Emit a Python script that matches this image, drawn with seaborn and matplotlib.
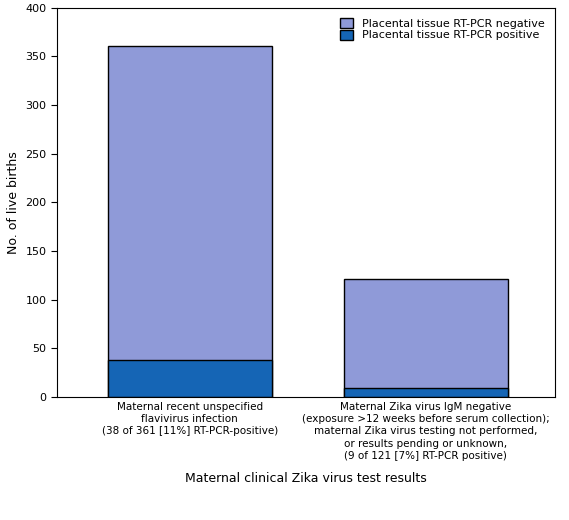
import pandas as pd
import matplotlib.pyplot as plt
import seaborn as sns
from matplotlib.patches import Patch

categories = ["Maternal recent unspecified\nflavivirus infection\n(38 of 361 [11%] RT-PCR-positive)",
              "Maternal Zika virus IgM negative\n(exposure >12 weeks before serum collection);\nmaternal Zika virus testing not performed,\nor results pending or unknown,\n(9 of 121 [7%] RT-PCR positive)"]
totals = [361, 121]
positives = [38, 9]

df = pd.DataFrame({"cat": categories, "total": totals, "pos": positives})

sns.set_style("white")
plt.rcParams['font.family'] = ['DejaVu Sans']
plt.rcParams['text.color'] = 'black'
plt.rcParams['axes.labelcolor'] = 'black'
plt.rcParams['xtick.color'] = 'black'
plt.rcParams['ytick.color'] = 'black'
fig, ax = plt.subplots(figsize=(5.69, 5.2), dpi=100)
sns.barplot(data=df, x="cat", y="total", color="#8f9ad8", saturation=1,
            edgecolor="black", linewidth=1, width=0.695, ax=ax)
sns.barplot(data=df, x="cat", y="pos", color="#1565b5", saturation=1,
            edgecolor="black", linewidth=1, width=0.695, ax=ax)

ax.set_xlim(-0.563, 1.547)
ax.set_ylim(0, 400)
ax.set_yticks(range(0, 401, 50))
ax.tick_params(axis='y', labelsize=8, length=4, direction='out', left=True)
ax.tick_params(axis='x', labelsize=7.5, length=0)
for t in ax.get_xticklabels():
    t.set_linespacing(1.3)
ax.set_ylabel("No. of live births", fontsize=9)
ax.set_xlabel("Maternal clinical Zika virus test results", fontsize=9, labelpad=8)
for s in ax.spines.values():
    s.set_color("black")
    s.set_linewidth(0.8)

handles = [Patch(facecolor="#8f9ad8", edgecolor="black", label="Placental tissue RT-PCR negative"),
           Patch(facecolor="#1565b5", edgecolor="black", label="Placental tissue RT-PCR positive")]
ax.legend(handles=handles, loc="upper right", frameon=False, fontsize=8,
          handlelength=1.2, handleheight=1.0, labelspacing=0.1)

fig.subplots_adjust(left=0.1, right=0.975, top=0.985, bottom=0.237)
fig.savefig("out.png", dpi=100)
